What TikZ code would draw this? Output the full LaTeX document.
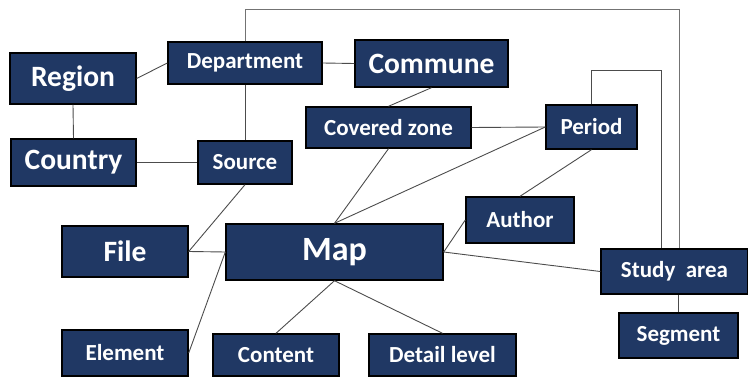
\documentclass[tikz,border=0pt]{standalone}
\usepackage{fontspec}
\setmainfont{Carlito}
\usepackage{tikz}
\usetikzlibrary{shapes,arrows,positioning,calc}
\definecolor{boxblue}{HTML}{203864}
\tikzset{
  entity/.style={draw=black,line width=1.4pt,fill=boxblue,text=white,inner sep=0pt,
    font=\bfseries\fontsize{23}{27}\selectfont},
  bigentity/.style={entity,font=\bfseries\fontsize{29.5}{33}\selectfont},
  link/.style={draw=black!70,line width=0.9pt}
}

\begin{document}
\begin{tikzpicture}[x=1pt,y=-1pt]
      \path[use as bounding box] (0,0) rectangle (748,377);

      \coordinate (reg) at (73,78.5);
      \coordinate (dep) at (245,63);
      \coordinate (com) at (431.5,63.5);
      \coordinate (cov) at (388.5,127.5);
      \coordinate (per) at (591.5,127);
      \coordinate (cou) at (73.5,162.5);
      \coordinate (src) at (245,162.5);
      \coordinate (fil) at (125,251.5);
      \coordinate (map) at (334.5,252);
      \coordinate (ele) at (125,353);
      \coordinate (con) at (276,355);
      \coordinate (det) at (442.5,355);
      \coordinate (aut) at (520,220);
      \coordinate (stu) at (674.5,271.5);
      \coordinate (seg) at (678.5,335.5);

      \node[bigentity,minimum width=126pt,minimum height=51pt] (regn) at (reg) {Region};
      \node[entity,minimum width=154pt,minimum height=42pt] (depn) at (dep) {Department};
      \node[bigentity,minimum width=153pt,minimum height=47pt] (comn) at (com) {Commune};
      \node[entity,minimum width=165pt,minimum height=41pt] (covn) at (cov) {Covered zone};
      \node[entity,minimum width=91pt,minimum height=44pt] (pern) at (per) {Period};
      \node[bigentity,minimum width=125pt,minimum height=47pt] (coun) at (cou) {Country};
      \node[entity,minimum width=94pt,minimum height=43pt] (srcn) at (src) {Source};
      \node[bigentity,minimum width=126pt,minimum height=51pt] (filn) at (fil) {File};
      \node[entity,font=\bfseries\fontsize{34}{38}\selectfont,minimum width=217pt,minimum height=56pt] (mapn) at (map) {Map};
      \node[entity,minimum width=126pt,minimum height=46pt] (elen) at (ele) {Element};
      \node[entity,minimum width=126pt,minimum height=42pt] (conn) at (con) {Content};
      \node[entity,minimum width=147pt,minimum height=42pt] (detn) at (det) {Detail level};
      \node[entity,minimum width=108pt,minimum height=46pt] (autn) at (aut) {Author};
      \node[entity,minimum width=147pt,minimum height=45pt] (stun) at (stu) {Study~~area};
      \node[entity,minimum width=119pt,minimum height=45pt] (segn) at (seg) {Segment};

      \draw[link] (regn.east) -- (depn.west);
      \draw[link] (regn.south) -- (coun.north);
      \draw[link] (depn.east) -- (comn.west);
      \draw[link] (depn.south) -- (srcn.north);
      \draw[link] (coun.east) -- (srcn.west);
      \draw[link] (comn.south) -- (covn.north);
      \draw[link] (covn.east) -- (pern.west);
      \draw[link] (covn.south) -- (mapn.north);
      \draw[link] (pern.west) -- (mapn.north);
      \draw[link] (pern.south) -- (autn.north);
      \draw[link] (srcn.south) -- (filn.east);
      \draw[link] (filn.east) -- (mapn.west);
      \draw[link] (elen.east) -- (mapn.west);
      \draw[link] (mapn.south) -- (conn.north);
      \draw[link] (mapn.south) -- (detn.north);
      \draw[link] (mapn.east) -- (autn.west);
      \draw[link] (mapn.east) -- (stun.west);
      \draw[link] (segn.north) -- (segn.north |- stun.south);

      \draw[link,draw=black!55] (depn.north) |- (679,9) -- ([xshift=4.5pt]stun.north);
      \draw[link] (pern.north) |- (661,70) -- ([xshift=-13.5pt]stun.north);
    \end{tikzpicture}
\end{document}
